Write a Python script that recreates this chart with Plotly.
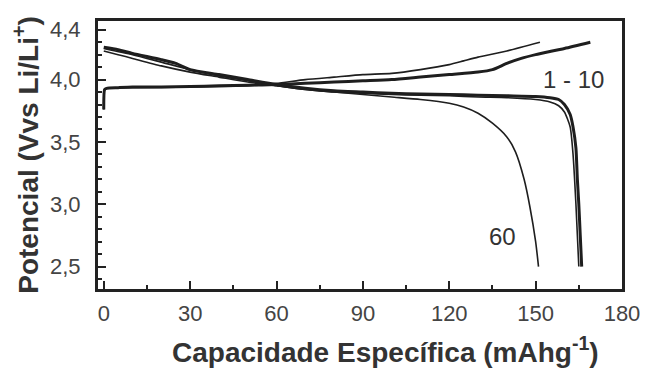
import plotly.graph_objects as go

# Charge curves
charge_a_x = [0, 0.3, 1, 5, 10, 20, 30, 40, 50, 60, 70, 80, 90, 100, 110, 120, 130, 135, 140, 145, 150, 160, 169]
charge_a_v = [3.76, 3.92, 3.93, 3.935, 3.94, 3.94, 3.945, 3.95, 3.955, 3.96, 3.97, 3.98, 3.99, 4.0, 4.02, 4.04, 4.06, 4.08, 4.13, 4.17, 4.20, 4.25, 4.30]

charge_b_x = [0, 0.3, 1, 10, 30, 50, 60, 70, 80, 90, 100, 110, 120, 125, 130, 140, 151.5]
charge_b_v = [3.76, 3.92, 3.93, 3.935, 3.94, 3.95, 3.97, 4.0, 4.02, 4.04, 4.05, 4.08, 4.12, 4.15, 4.18, 4.23, 4.30]

# Discharge curves
dis_a_x = [0, 5, 10, 20, 25, 30, 40, 50, 60, 70, 80, 90, 100, 110, 120, 130, 140, 150, 155, 158, 160, 162, 163, 164, 164.5, 165, 165.5, 166]
dis_a_v = [4.26, 4.24, 4.21, 4.16, 4.13, 4.08, 4.04, 4.00, 3.96, 3.93, 3.91, 3.90, 3.89, 3.885, 3.88, 3.875, 3.87, 3.865, 3.855, 3.84, 3.80, 3.72, 3.62, 3.45, 3.2, 3.0, 2.75, 2.5]

dis_b_x = [0, 10, 20, 30, 40, 50, 60, 70, 80, 90, 100, 110, 120, 130, 140, 150, 155, 158, 160, 162, 163, 164, 165]
dis_b_v = [4.25, 4.20, 4.14, 4.08, 4.03, 3.99, 3.95, 3.92, 3.90, 3.89, 3.88, 3.875, 3.87, 3.86, 3.855, 3.84, 3.82, 3.79, 3.74, 3.62, 3.4, 3.0, 2.5]

dis_60_x = [0, 5, 10, 20, 30, 40, 50, 60, 70, 80, 90, 100, 110, 120, 125, 130, 135, 140, 143, 146, 148, 150, 151]
dis_60_v = [4.23, 4.20, 4.17, 4.11, 4.06, 4.02, 3.98, 3.95, 3.92, 3.90, 3.88, 3.86, 3.84, 3.81, 3.78, 3.73, 3.65, 3.54, 3.42, 3.2, 2.98, 2.7, 2.5]

x_ticks = [0, 30, 60, 90, 120, 150, 180]
y_ticks = [2.5, 3.0, 3.5, 4.0, 4.4]
y_tick_text = ["2,5", "3,0", "3,5", "4,0", "4,4"]

FONT = "Arial"
col = "#1e1e1e"
fig = go.Figure()
for xs, vs, w in [
    (charge_a_x, charge_a_v, 3),
    (charge_b_x, charge_b_v, 1.6),
    (dis_a_x, dis_a_v, 3),
    (dis_b_x, dis_b_v, 1.6),
    (dis_60_x, dis_60_v, 1.6),
]:
    fig.add_trace(go.Scatter(x=xs, y=vs, mode="lines",
                             line=dict(color=col, width=w, shape="spline", smoothing=0.6),
                             showlegend=False, hoverinfo="skip"))

fig.add_annotation(x=163, y=4.0, text="1 - 10", showarrow=False,
                   font=dict(family=FONT, size=24, color="#333"))
fig.add_annotation(x=138.6, y=2.74, text="60", showarrow=False,
                   font=dict(family=FONT, size=24, color="#333"))
# x-axis title (placed right of centre, as in the reference)
fig.add_annotation(xref="paper", yref="paper", x=(385 - 98) / 524, y=-(350 - 289) / 268,
                   text="<b>Capacidade Específica (mAhg<sup>-1</sup>)</b>", showarrow=False,
                   xanchor="center", yanchor="middle",
                   font=dict(family=FONT, size=28, color="#333"))

fig.update_layout(
    width=651, height=370,
    margin=dict(l=98, r=29, t=21, b=81),
    paper_bgcolor="white", plot_bgcolor="white",
    font=dict(family=FONT, color="#444"),
    xaxis=dict(
        range=[-2, 180], tickvals=x_ticks, ticks="inside", ticklen=8, tickwidth=2,
        tickcolor="#222", showgrid=False, zeroline=False,
        showline=True, linecolor="#222", linewidth=3, mirror=True,
        tickfont=dict(family=FONT, size=22, color="#444"), ticklabelstandoff=3,
        minor=dict(ticks="inside", ticklen=4, tickwidth=2, dtick=15, tick0=0, tickcolor="#222"),
    ),
    yaxis=dict(
        range=[2.32, 4.47], tickvals=y_ticks, ticktext=y_tick_text, ticks="inside", ticklen=8,
        tickwidth=2, tickcolor="#222", showgrid=False, zeroline=False,
        showline=True, linecolor="#222", linewidth=3, mirror=True,
        tickfont=dict(family=FONT, size=22, color="#444"), ticklabelstandoff=10,
        minor=dict(ticks="inside", ticklen=4, tickwidth=2, dtick=0.1, tick0=2.5, tickcolor="#222"),
        title=dict(text="<b>Potencial (Vvs Li/Li<sup>+</sup>)</b>",
                   font=dict(family=FONT, size=28, color="#333"), standoff=4),
    ),
)

fig.write_html("out.html")
